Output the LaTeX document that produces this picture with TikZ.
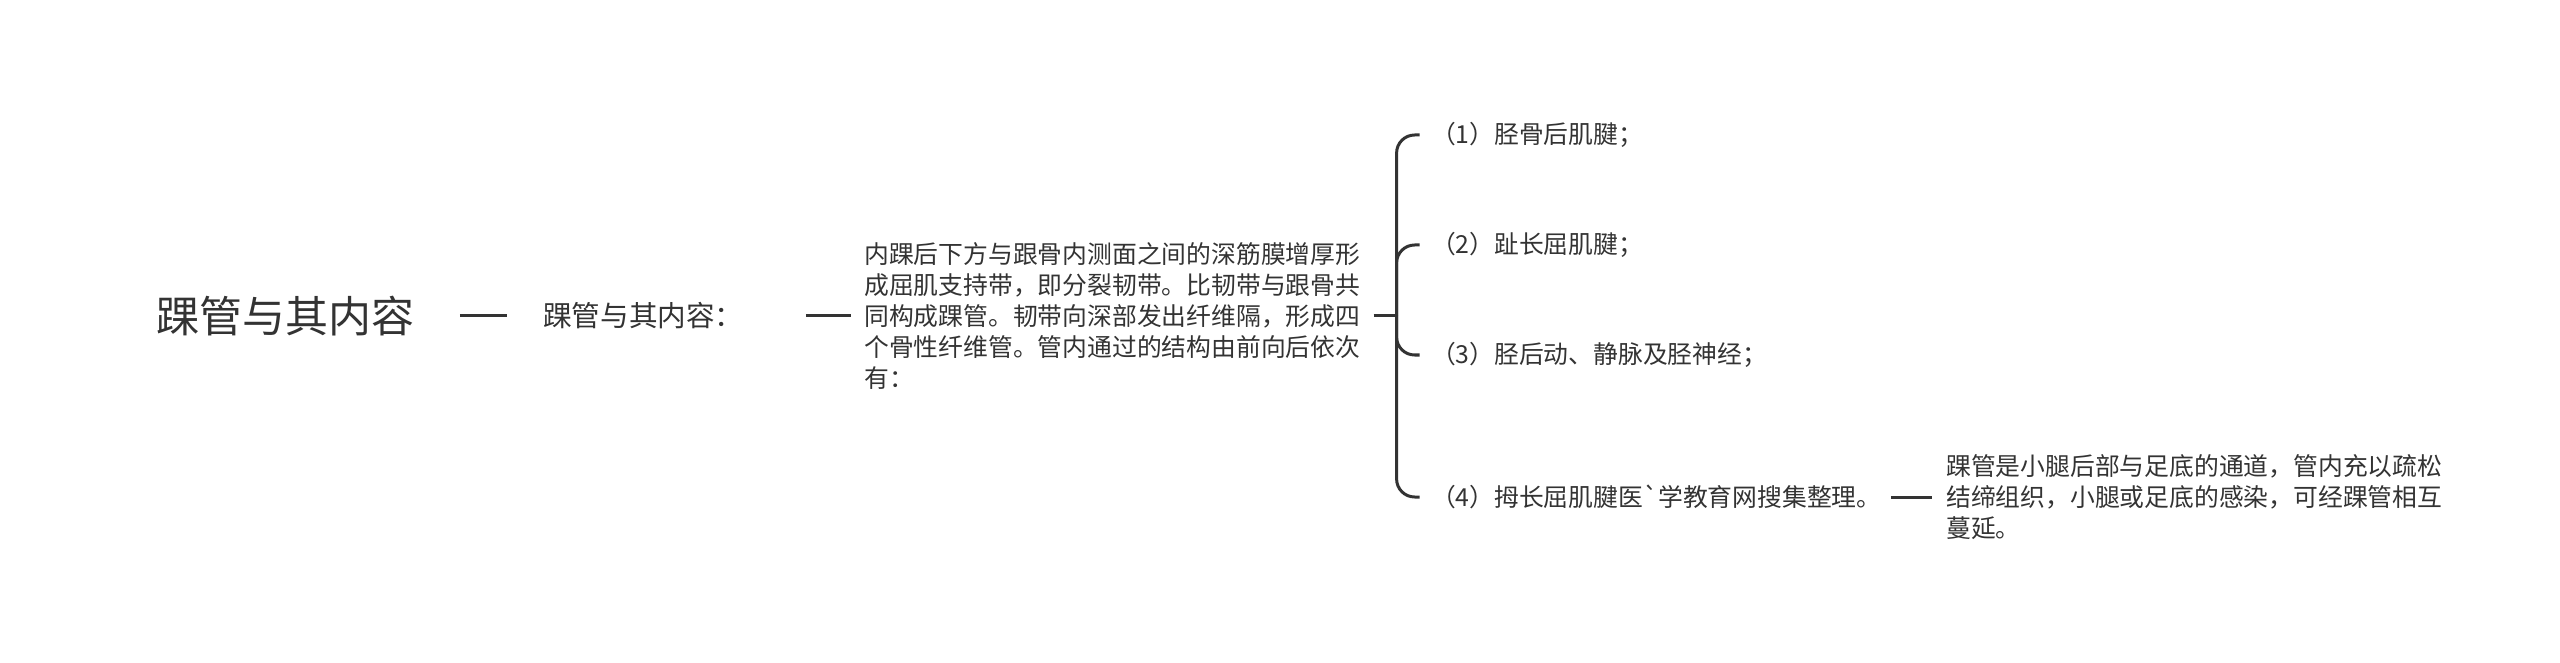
\documentclass[tikz,border=0pt]{standalone}
\usepackage{fontspec}
\newfontfamily\cjk{Noto Sans CJK SC}
\usetikzlibrary{positioning}
\definecolor{ink}{HTML}{333333}
\tikzstyle{root_topic} = [inner sep=0pt,
						  text=ink,
						  font=\cjk\fontsize{21.5pt}{26pt}\selectfont,
						  anchor=west]
\tikzstyle{sub_topic} = [inner sep=0pt,
						 text=ink,
						 font=\cjk\fontsize{14.3pt}{17pt}\selectfont,
						 anchor=west]
\tikzstyle{desc_text} = [inner sep=0pt,
						 text=ink,
						 align=left,
						 font=\cjk\fontsize{12.4pt}{15.5pt}\selectfont,
						 anchor=west]
\tikzstyle{link} = [draw=ink,
					line width=1.5pt]
\tikzstyle{branch} = [link,
					  rounded corners=9pt]

\begin{document}
\begin{tikzpicture}[x=0.5pt, y=-0.5pt]
        \useasboundingbox (0,0) rectangle (2560,663);

        \node[root_topic] (root) at (156,316) {踝管与其内容};
        \node[sub_topic, right=64pt of root] (sub) {踝管与其内容：};
        \node[desc_text, right=60pt of sub] (desc) {内踝后下方与跟骨内测面之间的深筋膜增厚形\\成屈肌支持带，即分裂韧带。比韧带与跟骨共\\同构成踝管。韧带向深部发出纤维隔，形成四\\个骨性纤维管。管内通过的结构由前向后依次\\有：};
        \coordinate[right=18pt of desc] (brace);

        %%%%%%%%%%
        % LEAVES %
        %%%%%%%%%%
        \node[desc_text, right=17pt of brace, yshift=90.5pt] (l1) {（1）胫骨后肌腱；};
        \node[desc_text, right=17pt of brace, yshift=35.5pt] (l2) {（2）趾长屈肌腱；};
        \node[desc_text, right=17pt of brace, yshift=-19.5pt] (l3) {（3）胫后动、静脉及胫神经；};
        \node[desc_text, right=17pt of brace, yshift=-90.5pt] (l4) {（4）拇长屈肌腱医`学教育网搜集整理。};
        \node[desc_text, right=32pt of l4] (note) {踝管是小腿后部与足底的通道，管内充以疏松\\结缔组织，小腿或足底的感染，可经踝管相互\\蔓延。};

        % connectors
        \draw[link, shorten <=22.5pt, shorten >=18pt] (root.east) -- (sub.west);
        \draw[link, shorten <=31pt, shorten >=6.5pt] (sub.east) -- (desc.west);
        \draw[link, shorten <=6.5pt] (desc.east) -- (brace);
        \foreach \leaf in {l1,l2,l3,l4}
            \draw[branch, shorten >=5.5pt] (brace) |- (\leaf.west);
        \draw[link, shorten <=4.5pt, shorten >=7pt] (l4.east) -- (note.west);

\end{tikzpicture}
\end{document}
